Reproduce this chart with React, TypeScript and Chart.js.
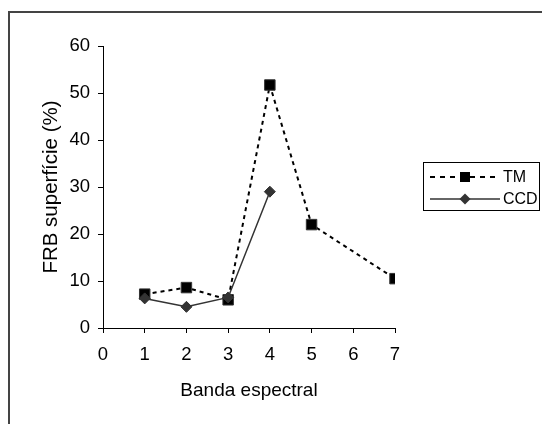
import React, { useEffect, useRef } from "react";
import { Chart, registerables } from "chart.js";

Chart.register(...registerables);

const tmBands = [1, 2, 3, 4, 5, 7];
const tmValues = [7.2, 8.6, 6.0, 51.7, 22.0, 10.5];
const ccdBands = [1, 2, 3, 4];
const ccdValues = [6.3, 4.5, 6.5, 29.0];
const seriesNames = ["TM", "CCD"];
const xTitle = "Banda espectral";
const yTitle = "FRB superfície (%)";

const FONT = "'Liberation Sans', Arial, sans-serif";

const legendPlugin = {
  id: "excelLegend",
  afterDraw(chart: any) {
    const ctx = chart.ctx as CanvasRenderingContext2D;
    const ds = chart.data.datasets;
    ctx.save();
    ctx.fillStyle = "#fff";
    ctx.strokeStyle = "#000";
    ctx.lineWidth = 1;
    ctx.fillRect(423.5, 162.5, 116, 48);
    ctx.strokeRect(423.5, 162.5, 116, 48);
    const rows = [177, 199];
    rows.forEach((y, i) => {
      const d = ds[i];
      ctx.save();
      ctx.strokeStyle = d.borderColor;
      ctx.lineWidth = d.borderWidth;
      ctx.setLineDash(i === 0 ? [5, 5] : []);
      ctx.beginPath();
      ctx.moveTo(430, y);
      ctx.lineTo(500, y);
      ctx.stroke();
      ctx.restore();
      ctx.fillStyle = d.pointBackgroundColor;
      ctx.beginPath();
      if (d.pointStyle === "rect") {
        ctx.rect(460, y - 5, 10, 10);
      } else {
        ctx.moveTo(465, y - 5.5);
        ctx.lineTo(470.5, y);
        ctx.lineTo(465, y + 5.5);
        ctx.lineTo(459.5, y);
        ctx.closePath();
      }
      ctx.fill();
      ctx.fillStyle = "#000";
      ctx.font = `16px ${FONT}`;
      ctx.textBaseline = "middle";
      ctx.textAlign = "left";
      ctx.fillText(d.label, 503, y + 0.5);
    });
    ctx.restore();
  },
};

export default function App() {
  const ref = useRef<HTMLCanvasElement>(null);
  useEffect(() => {
    if (!ref.current) return;
    const chart = new Chart(ref.current, {
      type: "line",
      data: {
        datasets: [
          {
            label: seriesNames[0],
            data: tmBands.map((x, i) => ({ x, y: tmValues[i] })),
            borderColor: "#000",
            borderWidth: 2,
            borderDash: [4, 4],
            pointStyle: "rect",
            pointRadius: 7.4,
            pointBackgroundColor: "#000",
            pointBorderColor: "#333",
            pointBorderWidth: 1,
            order: 1,
          } as any,
          {
            label: seriesNames[1],
            data: ccdBands.map((x, i) => ({ x, y: ccdValues[i] })),
            borderColor: "#333",
            borderWidth: 1.5,
            pointStyle: "rectRot",
            pointRadius: 5.5,
            pointBackgroundColor: "#333",
            pointBorderColor: "#333",
            pointBorderWidth: 1,
            order: 0,
          } as any,
        ],
      },
      options: {
        animation: false,
        responsive: false,
        devicePixelRatio: 1,
        layout: { padding: { left: 0, top: 46, right: 147, bottom: 0 } },
        plugins: {
          legend: { display: false },
          tooltip: { enabled: false },
        },
        scales: {
          x: {
            type: "linear",
            min: 0,
            max: 7,
            ticks: {
              stepSize: 1,
              color: "#000",
              padding: 11,
              font: { family: FONT, size: 18.5 },
            },
            grid: {
              display: true,
              drawOnChartArea: false,
              drawTicks: true,
              tickLength: 5,
              color: "#000",
            },
            border: { display: true, color: "#000", width: 1 },
            title: {
              display: true,
              text: xTitle,
              color: "#000",
              font: { family: FONT, size: 19 },
              padding: { top: 0, bottom: 22 },
            },
            afterFit: (s: any) => {
              s.height = 96;
            },
          },
          y: {
            type: "linear",
            min: 0,
            max: 60,
            ticks: {
              stepSize: 10,
              color: "#000",
              padding: 8,
              font: { family: FONT, size: 18.5 },
            },
            grid: {
              display: true,
              drawOnChartArea: false,
              drawTicks: true,
              tickLength: 5,
              color: "#000",
            },
            border: { display: true, color: "#000", width: 1 },
            title: {
              display: true,
              text: yTitle,
              color: "#000",
              font: { family: FONT, size: 20.5 },
              padding: { top: 39, bottom: 0 },
            },
            afterFit: (s: any) => {
              s.width = 103;
            },
          },
        },
      },
      plugins: [legendPlugin],
    });
    return () => chart.destroy();
  }, []);

  return (
    <>
      <div
        style={{
          position: "fixed",
          left: 8,
          top: 11,
          width: 1000,
          height: 1000,
          borderLeft: "2px solid #444",
          borderTop: "2px solid #444",
          background: "#fff",
        }}
      />
      <canvas
        ref={ref}
        width={542}
        height={424}
        style={{ position: "fixed", left: 0, top: 0, width: 542, height: 424 }}
      />
    </>
  );
}
